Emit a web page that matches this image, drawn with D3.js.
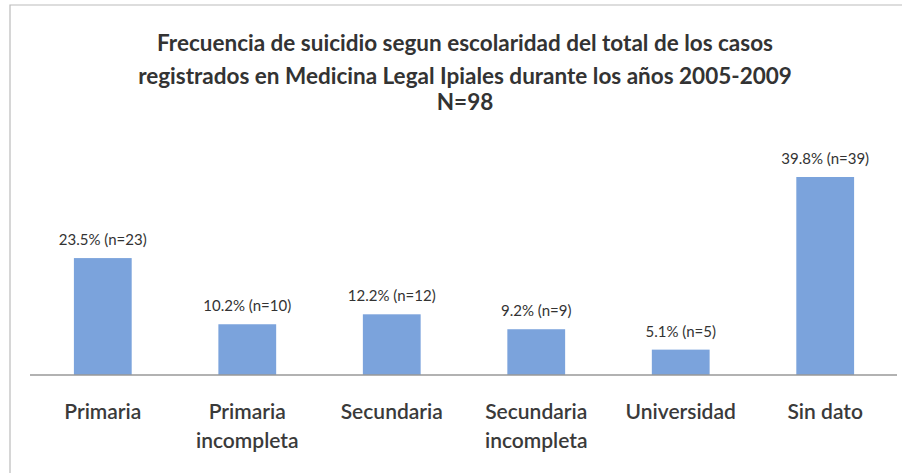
<!DOCTYPE html>
<html>
<head>
<meta charset="utf-8">
<script src="https://cdn.jsdelivr.net/npm/d3@7"></script>
<style>
  body { margin: 0; background: #fff; }
  svg { font-family: Lato, "Open Sans", sans-serif; }
</style>
</head>
<body>
<div id="chart-area"></div>
<script>
// Data
const categories = [
  ['Primaria'],
  ['Primaria', 'incompleta'],
  ['Secundaria'],
  ['Secundaria', 'incompleta'],
  ['Universidad'],
  ['Sin dato']
];
const percents = [23.5, 10.2, 12.2, 9.2, 5.1, 39.8];
const counts = [23, 10, 12, 9, 5, 39];
const titleLines = [
  'Frecuencia de suicidio segun escolaridad del total de los casos',
  'registrados en Medicina Legal Ipiales durante los años 2005-2009',
  'N=98'
];

const W = 902, H = 473;
const baseY = 375;

const svg = d3.select('#chart-area')
  .append('svg')
    .attr('width', W)
    .attr('height', H);

// frame of the scanned chart
svg.append('path')
  .attr('d', 'M10,' + H + ' L10,5 L' + W + ',5')
  .attr('fill', 'none')
  .attr('stroke', '#bbb')
  .attr('stroke-width', 1.2);

// Title
const titleY = [51, 84, 110];
titleLines.forEach((t, i) => {
  svg.append('text')
    .attr('x', 465)
    .attr('y', titleY[i])
    .attr('text-anchor', 'middle')
    .attr('font-size', '22.5px')
    .attr('font-weight', 'bold')
    .attr('fill', '#333')
    .text(t);
});

// Scales
const keys = categories.map(c => c.join(' '));
const x = d3.scaleBand()
  .domain(keys)
  .range([45, 883])
  .paddingInner(0.6)
  .paddingOuter(0.2);

const y = d3.scaleLinear()
  .domain([0, 40])
  .range([baseY, 176]);

// Bars
svg.selectAll('rect.bar')
  .data(percents)
  .enter()
  .append('rect')
    .attr('class', 'bar')
    .attr('x', (d, i) => x(keys[i]))
    .attr('y', d => y(d))
    .attr('width', x.bandwidth())
    .attr('height', d => y(0) - y(d))
    .attr('fill', '#7ba3dc');

// Value labels
svg.selectAll('text.value')
  .data(percents)
  .enter()
  .append('text')
    .attr('class', 'value')
    .attr('x', (d, i) => x(keys[i]) + x.bandwidth() / 2)
    .attr('y', d => y(d) - 13)
    .attr('text-anchor', 'middle')
    .attr('font-size', '15px')
    .attr('fill', '#333')
    .text((d, i) => d.toFixed(1) + '% (n=' + counts[i] + ')');

// X Axis
const xAxisCall = d3.axisBottom(x).tickSize(0).tickFormat('');
const xAxis = svg.append('g')
  .attr('transform', 'translate(0,' + baseY + ')')
  .call(xAxisCall);
xAxis.select('.domain')
  .attr('d', 'M30,0H897')
  .attr('stroke', '#999')
  .attr('stroke-width', 1.3);

// Category labels
categories.forEach((c, i) => {
  const t = svg.append('text')
    .attr('x', x(keys[i]) + x.bandwidth() / 2)
    .attr('y', 419)
    .attr('text-anchor', 'middle')
    .attr('font-size', '21px')
    .attr('font-weight', 600)
    .attr('fill', '#3a3a3a');
  c.forEach((line, j) => {
    t.append('tspan')
      .attr('x', x(keys[i]) + x.bandwidth() / 2)
      .attr('dy', j === 0 ? 0 : 29)
      .text(line);
  });
});
</script>
</body>
</html>
